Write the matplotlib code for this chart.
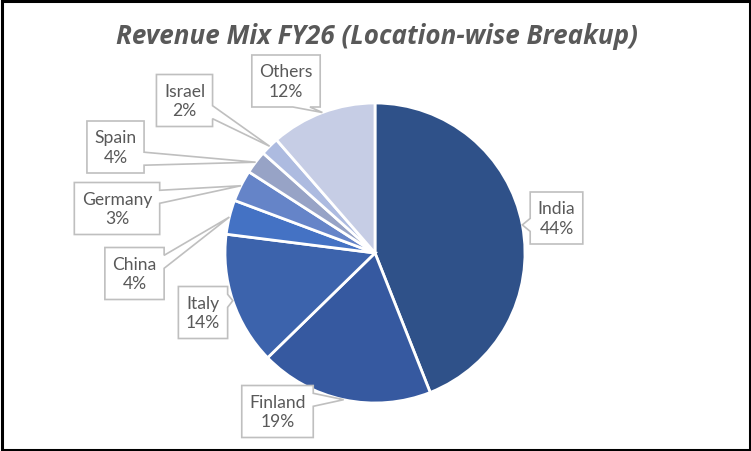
import matplotlib
matplotlib.use("Agg")
import matplotlib.pyplot as plt
from matplotlib.patches import Polygon, Rectangle
import numpy as np

# slice shares (clockwise from 12 o'clock)
locations = ["India", "Finland", "Italy", "China", "Germany", "Spain", "Israel", "Others"]
shares = [44.0, 18.7, 14.3, 3.7, 3.4, 2.5, 2.0, 11.4]
pct_labels = ["44%", "19%", "14%", "4%", "3%", "4%", "2%", "12%"]
colors = ["#2F5189", "#3659A0", "#3C63AC", "#4472C4", "#6584C8", "#97A3C6", "#ADBBE0", "#C6CDE5"]

# callout box centres, in pixels from the top-left corner
box_centres = [(556.5, 219), (277.5, 412.5), (203, 313.5), (134.5, 274.5),
               (117, 209.5), (115.5, 148), (184.5, 101.5), (286, 82)]

W, H = 751, 452
fig = plt.figure(figsize=(W / 100, H / 100), dpi=100)
ax = fig.add_axes([0, 0, 1, 1])

cx, cy, r = 375, H - 254, 150
wedges, _ = ax.pie(shares, colors=colors, startangle=90, counterclock=False,
                   center=(cx, cy), radius=r, frame=True,
                   wedgeprops=dict(edgecolor="white", linewidth=2))
ax.set_xlim(0, W)
ax.set_ylim(0, H)
ax.set_aspect("equal")
ax.axis("off")

ax.text(377, H - 36, "Revenue Mix FY26 (Location-wise Breakup)", ha="center", va="center",
        fontsize=18.7, fontweight="bold", fontstyle="italic", color="#595959",
        family="Open Sans")

fig.canvas.draw()
renderer = fig.canvas.get_renderer()

for w, name, pct, (bx, by) in zip(wedges, locations, pct_labels, box_centres):
    by = H - by
    t = ax.text(bx, by, name + "\n" + pct, ha="center", va="center", fontsize=12.6,
                color="#595959", family="Lato", linespacing=1.25, zorder=6)
    ext = t.get_window_extent(renderer)
    bw = ext.width + 15
    bh = 52
    x0, x1 = bx - bw / 2, bx + bw / 2
    y0, y1 = by - bh / 2, by + bh / 2
    # pointer tip sits on the rim at the middle of the slice
    mid = np.deg2rad((w.theta1 + w.theta2) / 2)
    tx, ty = cx + r * np.cos(mid), cy + r * np.sin(mid)
    dx = (tx - bx) / (bw / 2)
    dy = (ty - by) / (bh / 2)
    tip = (tx, ty)
    if abs(dx) >= abs(dy):
        c = min(max(ty, y0 + 0.275 * bh), y1 - 0.275 * bh)
        hw = 0.125 * bh
        if dx > 0:
            pts = [(x0, y1), (x1, y1), (x1, c + hw), tip, (x1, c - hw), (x1, y0), (x0, y0)]
        else:
            pts = [(x0, y1), (x1, y1), (x1, y0), (x0, y0), (x0, c - hw), tip, (x0, c + hw)]
    else:
        c = min(max(tx, x0 + 0.275 * bw), x1 - 0.275 * bw)
        hw = 0.125 * bw
        if dy < 0:
            pts = [(x0, y1), (x1, y1), (x1, y0), (c + hw, y0), tip, (c - hw, y0), (x0, y0)]
        else:
            pts = [(x0, y1), (c - hw, y1), tip, (c + hw, y1), (x1, y1), (x1, y0), (x0, y0)]
    ax.add_patch(Polygon(pts, closed=True, facecolor="white", edgecolor="#BFBFBF",
                         linewidth=1.2, zorder=5))

fig.add_artist(Rectangle((1.5 / W, 1.5 / H), (W - 3) / W, (H - 3) / H, transform=fig.transFigure,
                         fill=False, edgecolor="black", linewidth=2.2))

fig.savefig("out.png", dpi=100, facecolor="white")
